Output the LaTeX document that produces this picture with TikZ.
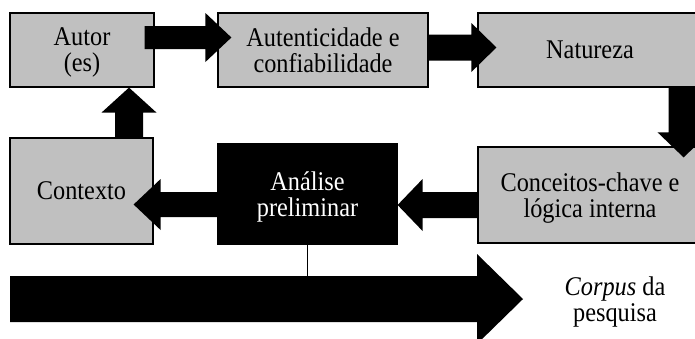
\documentclass[tikz,border=0pt]{standalone}
\usepackage{fontspec}
\setmainfont{Liberation Serif}[FakeStretch=0.9]
\usetikzlibrary{calc}
\definecolor{boxgray}{RGB}{192,192,192}
% horizontal block arrow: from #1 to tip #2, shaft half-width #3, head half-width #4, head length #5 (negative for leftward)
\newcommand\harrow[5]{\fill let \p1=(#1), \p2=(#2) in
 (\x1,{\y1+#3pt}) -- ({\x2-(#5)*1pt},{\y1+#3pt}) -- ({\x2-(#5)*1pt},{\y1+#4pt}) -- (\x2,\y1)
 -- ({\x2-(#5)*1pt},{\y1-#4pt}) -- ({\x2-(#5)*1pt},{\y1-#3pt}) -- (\x1,{\y1-#3pt}) -- cycle;}
% vertical block arrow: head length #5 positive for upward, negative for downward
\newcommand\varrow[5]{\fill let \p1=(#1), \p2=(#2) in
 ({\x1+#3pt},\y1) -- ({\x1+#3pt},{\y2-(#5)*1pt}) -- ({\x1+#4pt},{\y2-(#5)*1pt}) -- (\x1,\y2)
 -- ({\x1-#4pt},{\y2-(#5)*1pt}) -- ({\x1-#3pt},{\y2-(#5)*1pt}) -- ({\x1-#3pt},\y1) -- cycle;}
\begin{document}
\begin{tikzpicture}[x=1pt,y=-1pt,
  txt/.style={font=\fontsize{27}{26}\selectfont, align=center, text depth=0pt},
  box/.style={draw=black, line width=1.2pt, fill=boxgray, inner sep=0pt, txt},
  darkbox/.style={box, fill=black, text=white},
  plain/.style={inner sep=0pt, txt}]
\useasboundingbox (0,0) rectangle (695,338);
\clip (0,0) rectangle (695,338);
% boxes
\node[box, minimum width=144pt, minimum height=74pt] (autor) at (82,50) {Autor\\(es)};
\node[box, minimum width=210pt, minimum height=74pt] (autent) at (323,50) {Autenticidade e\\confiabilidade};
\node[box, minimum width=224pt, minimum height=74pt] (natureza) at (590,50) {Natureza};
\node[box, minimum width=143pt, minimum height=106pt] (contexto) at (81.5,191) {Contexto};
\node[darkbox, minimum width=179pt, minimum height=100pt] (analise) at (307.5,194) {Análise\\preliminar};
\node[box, minimum width=224pt, minimum height=96pt] (conceitos) at (590,195) {Conceitos-chave e\\lógica interna};
\node[plain] (corpus) at (615,299) {\textit{Corpus} da\\pesquisa};
% connector end points
\coordinate (a1s) at ($(autor.east)+(-10,-12.5)$);
\coordinate (a1t) at ($(autent.west)+(14,-12.5)$);
\coordinate (a2s) at ($(autent.east)+(0,-2.5)$);
\coordinate (a2t) at ($(natureza.west)+(19,-2.5)$);
\coordinate (a3s) at ($(natureza.south east)+(-19,0)$);
\coordinate (a3t) at ($(conceitos.north east)+(-19,11)$);
\coordinate (a4s) at ($(conceitos.west)+(0,10)$);
\coordinate (a4t) at ($(analise.east)+(0,11)$);
\coordinate (a5s) at ($(analise.west)+(0,10.5)$);
\coordinate (a5t) at ($(contexto.east)+(-20,13.5)$);
\coordinate (a6s) at ($(contexto.north)+(47.5,0)$);
\coordinate (a6t) at ($(autor.south)+(47,0)$);
\coordinate (bs) at (10,299);
\coordinate (bt) at (523,299);
\coordinate (btop) at (307.5,276);
% block arrows
\harrow{a1s}{a1t}{11.5}{24.5}{26}
\harrow{a2s}{a2t}{13}{24.5}{25}
\varrow{a3s}{a3t}{15}{26}{-25}
\harrow{a4s}{a4t}{13}{26}{-25}
\harrow{a5s}{a5t}{12.5}{25.5}{-27}
\varrow{a6s}{a6t}{14}{27.5}{25}
\harrow{bs}{bt}{23}{45}{46}
\draw[line width=1pt] (analise.south) -- (analise.south |- btop);
\end{tikzpicture}
\end{document}
